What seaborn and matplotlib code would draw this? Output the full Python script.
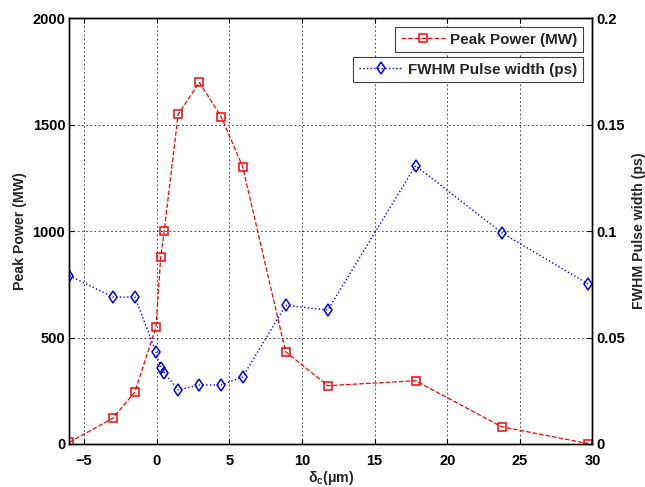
import matplotlib
matplotlib.use("Agg")
import matplotlib.pyplot as plt
from matplotlib.lines import Line2D
import seaborn as sns
import pandas as pd

# Offset delta_c (um) and the two measured quantities
delta_c = [-6.0, -3.0, -1.5, -0.05, 0.28, 0.52, 1.48, 2.94, 4.44, 5.92,
           8.88, 11.78, 17.82, 23.75, 29.7]
peak_power = [8, 122, 244, 548, 876, 1000, 1548, 1698, 1537, 1302,
              433, 274, 297, 81, 2]
fwhm_width = [0.079, 0.069, 0.069, 0.0433, 0.0358, 0.0335, 0.0254, 0.0277,
              0.0277, 0.0315, 0.0651, 0.0629, 0.1307, 0.0992, 0.0751]

power_ticks = [0, 500, 1000, 1500, 2000]
width_ticks = [0, 0.05, 0.1, 0.15, 0.2]
width_tick_labels = ["0", "0.05", "0.1", "0.15", "0.2"]
x_ticks = [-5, 0, 5, 10, 15, 20, 25, 30]

df = pd.DataFrame({"delta_c": delta_c, "power": peak_power, "width": fwhm_width})

sns.set_style("white")
plt.rcParams["font.family"] = ["Liberation Sans", "DejaVu Sans"]
plt.rcParams["font.weight"] = "bold"
plt.rcParams["mathtext.fontset"] = "custom"
plt.rcParams["mathtext.rm"] = "Liberation Sans:bold"
plt.rcParams["mathtext.it"] = "Liberation Sans:bold"
plt.rcParams["mathtext.bf"] = "Liberation Sans:bold"

tick_fs = 10.5
label_fs = 10.2
legend_fs = 11

fig = plt.figure(figsize=(6.45, 4.87), dpi=100)
ax1 = fig.add_axes([0.1077, 0.0883, 0.8109, 0.8747])
ax2 = ax1.twinx()

red_kw = dict(color="red", linestyle="--", linewidth=0.9, marker="s",
              markersize=6.3, markerfacecolor="none", markeredgecolor="red",
              markeredgewidth=1.1)
blue_kw = dict(color="blue", linestyle=":", linewidth=1.0, marker="d",
               markersize=6.0, markerfacecolor="none", markeredgecolor="blue",
               markeredgewidth=1.1)

sns.lineplot(data=df, x="delta_c", y="power", ax=ax1, sort=False,
             legend=False, **red_kw)
sns.lineplot(data=df, x="delta_c", y="width", ax=ax2, sort=False,
             legend=False, **blue_kw)

ax1.set_xlim(-6, 30)
ax1.set_ylim(0, 2000)
ax2.set_ylim(0, 0.2)
ax1.set_xticks(x_ticks)
ax1.set_yticks(power_ticks)
ax2.set_yticks(width_ticks)
ax2.set_yticklabels(width_tick_labels)

ax1.grid(True, color="black", linestyle=(0, (2, 3)), linewidth=0.6, alpha=0.85)
ax2.grid(False)

for ax in (ax1, ax2):
    for sp in ax.spines.values():
        sp.set_color("black")
        sp.set_linewidth(1.0)
        sp.set_visible(True)
    ax.tick_params(direction="in", length=3.5, width=0.8, colors="black",
                   labelsize=tick_fs, pad=3)
ax1.tick_params(axis="x", pad=7)
ax1.tick_params(top=True, right=False, left=True, bottom=True)
ax2.tick_params(right=True, left=False)
for lab in ax1.get_xticklabels() + ax1.get_yticklabels() + ax2.get_yticklabels():
    lab.set_fontweight("bold")

ax1.set_xlabel(r"$\delta_c$(μm)", fontsize=label_fs, fontweight="bold",
               labelpad=1)
ax1.set_ylabel("Peak Power (MW)", fontsize=label_fs, fontweight="bold",
               labelpad=4)
ax2.set_ylabel("FWHM Pulse width (ps)", fontsize=label_fs, fontweight="bold",
               rotation=90, labelpad=5)

h1 = Line2D([], [], **red_kw)
h2 = Line2D([], [], **blue_kw)
leg_kw = dict(loc="upper right", frameon=True, fancybox=False,
              borderaxespad=0, handlelength=2.9, handletextpad=0.35,
              borderpad=0.38, numpoints=1, framealpha=1,
              prop={"weight": "bold", "size": legend_fs})
leg1 = ax2.legend([h1], ["Peak Power (MW)"], bbox_to_anchor=(0.9824, 0.9796),
                  **leg_kw)
leg1.get_frame().set_edgecolor("#404040")
leg1.get_frame().set_linewidth(0.8)
ax2.add_artist(leg1)
leg2 = ax2.legend([h2], ["FWHM Pulse width (ps)"],
                  bbox_to_anchor=(0.9824, 0.9092), **leg_kw)
leg2.get_frame().set_edgecolor("#404040")
leg2.get_frame().set_linewidth(0.8)

fig.savefig("out.png", dpi=100)
